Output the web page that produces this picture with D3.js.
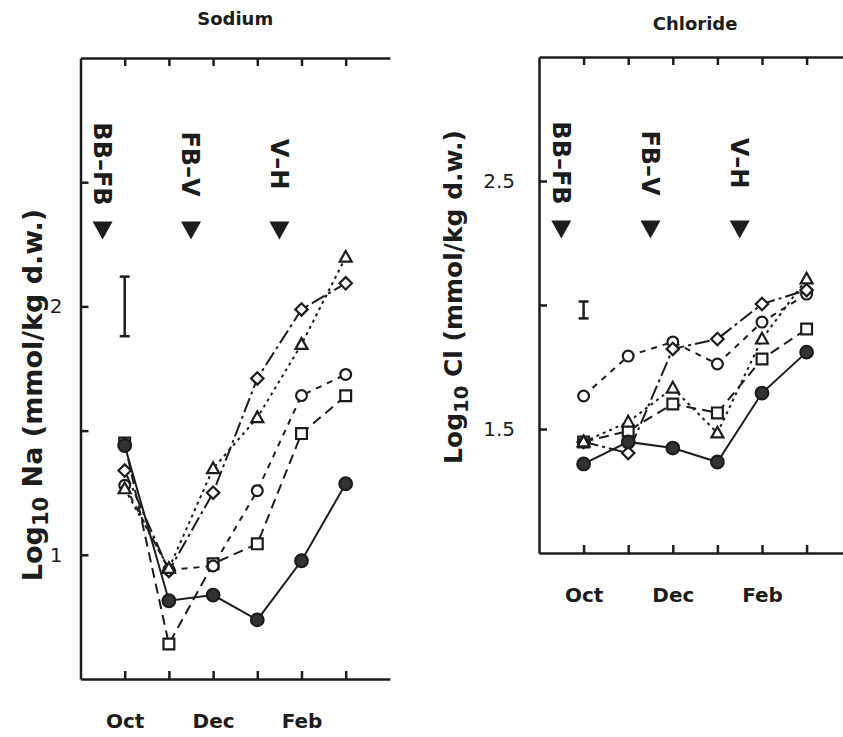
<!DOCTYPE html>
<html>
<head>
<meta charset="utf-8">
<script src="https://cdn.jsdelivr.net/npm/d3@7"></script>
<style>
  html, body { margin: 0; padding: 0; background: #fff; }
  svg { display: block; }
</style>
</head>
<body>
<svg id="chart" width="843" height="737"></svg>
<script>
// Sampling months (index 0 = Oct)
const months = ["Oct", "Nov", "Dec", "Jan", "Feb", "Mar"];
const monthLabels = ["Oct", "", "Dec", "", "Feb", ""];

// Phenological stage boundaries, in month-index units
const stageLabels = ["BB–FB", "FB–V", "V–H"];
const stagePositions = [-0.5, 1.5, 3.5];

// Sodium, log10 (mmol/kg d.w.)
const naSolid    = [1.440, 0.815, 0.838, 0.738, 0.976, 1.286];
const naSquare   = [1.450, 0.641, 0.964, 1.044, 1.488, 1.640];
const naCircle   = [1.280, 0.940, 0.955, 1.258, 1.641, 1.726];
const naDiamond  = [1.339, 0.935, 1.250, 1.710, 1.988, 2.093];
const naTriangle = [1.266, 0.945, 1.347, 1.552, 1.847, 2.198];
const naErrorBar = [2.0, 0.12];           // centre, half-length
const naTicks = [1.0, 1.5, 2.0, 2.5];
const naTickLabels = ["1", "", "2", ""];

// Chloride, log10 (mmol/kg d.w.)
const clSolid    = [1.359, 1.448, 1.423, 1.367, 1.645, 1.810];
const clSquare   = [1.448, 1.492, 1.601, 1.565, 1.782, 1.903];
const clCircle   = [1.633, 1.794, 1.851, 1.762, 1.931, 2.044];
const clDiamond  = [1.448, 1.403, 1.823, 1.863, 2.004, 2.060];
const clTriangle = [1.448, 1.528, 1.665, 1.484, 1.863, 2.105];
const clErrorBar = [1.98, 0.034];
const clTicks = [1.5, 2.0, 2.5];
const clTickLabels = ["1.5", "", "2.5"];

const INK = "#1c1c1c";
const FONT = "'DejaVu Sans', Verdana, sans-serif";

// Marker shapes for d3.symbol; "size" is used as a half-width in px
const shapes = {
  circle:   { draw(c, r) { c.moveTo(r, 0); c.arc(0, 0, r, 0, 2 * Math.PI); } },
  square:   { draw(c, s) { c.rect(-s, -s, 2 * s, 2 * s); } },
  diamond:  { draw(c, s) { c.moveTo(0, -s); c.lineTo(s, 0); c.lineTo(0, s); c.lineTo(-s, 0); c.closePath(); } },
  triangle: { draw(c, s) { c.moveTo(0, -s * 1.05); c.lineTo(s, s * 0.75); c.lineTo(-s, s * 0.75); c.closePath(); } },
  down:     { draw(c, s) { c.moveTo(-s, -s * 0.85); c.lineTo(s, -s * 0.85); c.lineTo(0, s * 0.95); c.closePath(); } }
};

// Line and marker style for each treatment
const styles = {
  solid:    { shape: "circle",   size: 6.3, filled: true,  dash: null },
  square:   { shape: "square",   size: 5.4, filled: false, dash: "10,6" },
  circle:   { shape: "circle",   size: 5.4, filled: false, dash: "6,6" },
  diamond:  { shape: "diamond",  size: 6.2, filled: false, dash: "15,4,3,4" },
  triangle: { shape: "triangle", size: 6.0, filled: false, dash: "3,4" }
};

const panels = [
  {
    title: "Sodium", element: "Na",
    left: 80.5, spacing: 44.2, top: 58, bottom: 679,
    yDomain: [0.5, 3.0], ticks: naTicks, tickLabels: naTickLabels, tickPad: 18,
    labelX: 42, labelY: 395, labelSize: 27, titleY: 25, rightAxis: false,
    errorBar: naErrorBar,
    series: [
      ["square", naSquare], ["circle", naCircle], ["diamond", naDiamond],
      ["triangle", naTriangle], ["solid", naSolid]
    ]
  },
  {
    title: "Chloride", element: "Cl",
    left: 539, spacing: 44.6, top: 57, bottom: 553,
    yDomain: [1.0, 3.0], ticks: clTicks, tickLabels: clTickLabels, tickPad: 24,
    labelX: 462, labelY: 297, labelSize: 25, titleY: 30, rightAxis: true,
    errorBar: clErrorBar,
    series: [
      ["square", clSquare], ["circle", clCircle], ["diamond", clDiamond],
      ["triangle", clTriangle], ["solid", clSolid]
    ]
  }
];

const svg = d3.select("#chart");

function styleAxis(g, fontSize, weight) {
  g.attr("font-family", FONT).attr("font-size", fontSize).attr("font-weight", weight);
  g.select(".domain").attr("stroke", INK).attr("stroke-width", 2.5);
  g.selectAll(".tick line").attr("stroke", INK).attr("stroke-width", 2.5);
  g.selectAll(".tick text").attr("fill", INK);
}

panels.forEach(p => {
  const x = d3.scaleLinear().domain([-1, 6]).range([p.left, p.left + 7 * p.spacing]);
  const y = d3.scaleLinear().domain(p.yDomain).range([p.bottom, p.top]);
  const right = x(6);
  const g = svg.append("g");

  // Axes (ticks point into the plot)
  const monthIdx = d3.range(months.length);
  g.append("g").attr("transform", `translate(0,${p.bottom})`)
    .call(d3.axisBottom(x).tickValues(monthIdx).tickSizeInner(-8).tickSizeOuter(0)
      .tickPadding(35).tickFormat(i => monthLabels[i]))
    .call(a => styleAxis(a, 20, "bold"));
  g.append("g").attr("transform", `translate(0,${p.top})`)
    .call(d3.axisTop(x).tickValues(monthIdx).tickSizeInner(-8).tickSizeOuter(0).tickFormat(""))
    .call(a => styleAxis(a, 20, "bold"));
  g.append("g").attr("transform", `translate(${p.left},0)`)
    .call(d3.axisLeft(y).tickValues(p.ticks).tickSizeInner(-8).tickSizeOuter(0)
      .tickPadding(p.tickPad).tickFormat((d, i) => p.tickLabels[i]))
    .call(a => styleAxis(a, 20, "normal"));
  if (p.rightAxis) {
    g.append("g").attr("transform", `translate(${right},0)`)
      .call(d3.axisRight(y).tickValues(p.ticks).tickSizeInner(-8).tickSizeOuter(0).tickFormat(""))
      .call(a => styleAxis(a, 20, "normal"));
  }

  // Panel title
  g.append("text")
    .attr("x", (p.left + right) / 2).attr("y", p.titleY)
    .attr("text-anchor", "middle")
    .attr("font-family", FONT).attr("font-size", 18).attr("font-weight", "bold")
    .attr("fill", INK)
    .text(p.title);

  // Y-axis title with subscript
  const yl = g.append("text")
    .attr("transform", `translate(${p.labelX},${p.labelY}) rotate(-90)`)
    .attr("text-anchor", "middle")
    .attr("font-family", FONT).attr("font-size", p.labelSize).attr("font-weight", "bold")
    .attr("fill", INK);
  yl.append("tspan").text("Log");
  yl.append("tspan").attr("font-size", p.labelSize * 0.78).attr("dy", 6).text("10");
  yl.append("tspan").attr("dy", -6).text(` ${p.element} (mmol/kg d.w.)`);

  // Stage markers
  stagePositions.forEach((m, i) => {
    g.append("text")
      .attr("transform", `translate(${x(m)},${p.top + 106}) rotate(90)`)
      .attr("text-anchor", "middle").attr("dy", "0.36em")
      .attr("font-family", FONT).attr("font-size", 24).attr("font-weight", "bold")
      .attr("fill", INK)
      .text(stageLabels[i]);
    g.append("path")
      .attr("transform", `translate(${x(m)},${p.top + 172})`)
      .attr("d", d3.symbol(shapes.down, 10)())
      .attr("fill", INK);
  });

  // Error bar, drawn at the first sampling month
  const [ec, eh] = p.errorBar;
  const ex = x(0);
  const eb = g.append("g").attr("stroke", INK).attr("stroke-width", 2.5);
  eb.append("line").attr("x1", ex).attr("x2", ex).attr("y1", y(ec - eh)).attr("y2", y(ec + eh));
  eb.append("line").attr("x1", ex - 5).attr("x2", ex + 5).attr("y1", y(ec - eh)).attr("y2", y(ec - eh));
  eb.append("line").attr("x1", ex - 5).attr("x2", ex + 5).attr("y1", y(ec + eh)).attr("y2", y(ec + eh));

  // Series lines
  const line = d3.line().x((d, i) => x(i)).y(d => y(d));
  p.series.forEach(([key, vals]) => {
    const s = styles[key];
    g.append("path")
      .attr("d", line(vals))
      .attr("fill", "none")
      .attr("stroke", INK).attr("stroke-width", 2)
      .attr("stroke-dasharray", s.dash);
  });

  // Series markers
  p.series.forEach(([key, vals]) => {
    const s = styles[key];
    g.append("g").selectAll("path")
      .data(vals).join("path")
      .attr("transform", (d, i) => `translate(${x(i)},${y(d)})`)
      .attr("d", d3.symbol(shapes[s.shape], s.size)())
      .attr("fill", s.filled ? "#333" : "#fff")
      .attr("stroke", INK).attr("stroke-width", 2.2);
  });
});
</script>
</body>
</html>
